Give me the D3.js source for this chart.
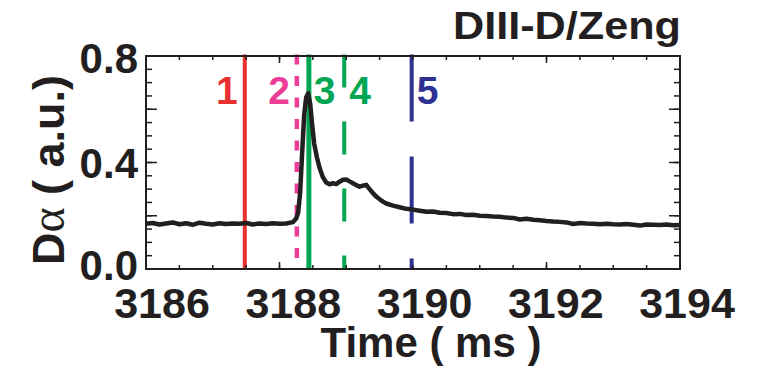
<!DOCTYPE html>
<html>
<head>
<meta charset="utf-8">
<script src="https://cdn.jsdelivr.net/npm/d3@7/dist/d3.min.js"></script>
<style>
	body { margin: 0; background: #fff; }
	text { font-family: "Liberation Sans", Arial, sans-serif; font-weight: bold; fill: #231f20; }
</style>
</head>
<body>
<div id="chart"></div>
<script>

// D-alpha trace (a.u.) vs time (ms)
const timeMs = [
	3186.0, 3186.1, 3186.2, 3186.3, 3186.4, 3186.5, 3186.6, 3186.7, 3186.8, 3186.9,
	3187.0, 3187.1, 3187.2, 3187.3, 3187.4, 3187.5, 3187.6, 3187.7, 3187.8, 3187.9,
	3188.0, 3188.1, 3188.2, 3188.25, 3188.28, 3188.31, 3188.34, 3188.37, 3188.40, 3188.43,
	3188.46, 3188.49, 3188.52, 3188.56, 3188.60, 3188.65, 3188.70, 3188.75, 3188.80, 3188.85,
	3188.90, 3188.95, 3189.00, 3189.05, 3189.10, 3189.15, 3189.20, 3189.25, 3189.30, 3189.35,
	3189.40, 3189.45, 3189.50, 3189.55, 3189.60, 3189.70, 3189.80, 3189.90, 3190.0, 3190.1,
	3190.2, 3190.3, 3190.4, 3190.5, 3190.6, 3190.7, 3190.8, 3190.9, 3191.0, 3191.1,
	3191.2, 3191.3, 3191.4, 3191.5, 3191.6, 3191.7, 3191.8, 3191.9, 3192.0, 3192.1,
	3192.2, 3192.3, 3192.4, 3192.5, 3192.6, 3192.7, 3192.8, 3192.9, 3193.0, 3193.1,
	3193.2, 3193.3, 3193.4, 3193.5, 3193.6, 3193.7, 3193.8, 3193.9, 3194.0
];
const dAlpha = [
	0.170, 0.173, 0.167, 0.171, 0.175, 0.168, 0.172, 0.166, 0.174, 0.170,
	0.167, 0.172, 0.169, 0.171, 0.170, 0.173, 0.167, 0.171, 0.169, 0.172,
	0.170, 0.171, 0.176, 0.190, 0.212, 0.290, 0.440, 0.580, 0.645, 0.660,
	0.620, 0.540, 0.470, 0.420, 0.380, 0.345, 0.325, 0.318, 0.322, 0.319,
	0.328, 0.335, 0.336, 0.329, 0.322, 0.315, 0.309, 0.313, 0.316, 0.300,
	0.285, 0.272, 0.262, 0.253, 0.246, 0.238, 0.232, 0.226, 0.223, 0.219,
	0.215, 0.216, 0.211, 0.210, 0.206, 0.207, 0.203, 0.204, 0.200, 0.199,
	0.197, 0.196, 0.193, 0.192, 0.186, 0.189, 0.185, 0.183, 0.180, 0.178,
	0.177, 0.175, 0.169, 0.173, 0.171, 0.170, 0.168, 0.170, 0.168, 0.167,
	0.169, 0.166, 0.163, 0.167, 0.166, 0.165, 0.167, 0.164, 0.165
];

// marked instants (ms) and their names
const eventTimes = [3187.48, 3188.26, 3188.44, 3188.97, 3189.98];
const eventLabels = ["1", "2", "3", "4", "5"];

// axis labels
const xTickValues = [3186, 3188, 3190, 3192, 3194];
const yTickValues = [0.0, 0.4, 0.8];
const title = "DIII-D/Zeng";

// styling per event, kept apart from the data
const eventStyle = {
	"1": {color: "#e8302f", dash: null, width: 4, side: "left"},
	"2": {color: "#ec3d97", dash: "10,11.5", width: 4.5, side: "left"},
	"3": {color: "#00a651", dash: null, width: 5, side: "right"},
	"4": {color: "#00a651", dash: "33,34", width: 4, side: "right"},
	"5": {color: "#2e3192", dash: "67,35", width: 4, side: "right"}
};

const W = 757, H = 366;
const plot = {left: 146, right: 680, top: 56, bottom: 269};

const svg = d3.select("#chart").append("svg")
	.attr("width", W)
	.attr("height", H);

svg.append("rect").attr("width", W).attr("height", H).attr("fill", "#fff");

const x = d3.scaleLinear().domain([3186, 3194]).range([plot.left, plot.right]);
const y = d3.scaleLinear().domain([0, 0.8]).range([plot.bottom, plot.top]);

// event lines
let events = eventTimes.map((t, i) => ({t: t, label: eventLabels[i]}));

svg.selectAll("line.event")
	.data(events)
	.enter()
	.append("line")
	.attr("class", "event")
	.attr("x1", d => x(d.t))
	.attr("x2", d => x(d.t))
	.attr("y1", y(0.8) - 1.5)
	.attr("y2", y(0))
	.attr("stroke", d => eventStyle[d.label].color)
	.attr("stroke-width", d => eventStyle[d.label].width)
	.attr("stroke-dasharray", d => eventStyle[d.label].dash);

// trace
let trace = timeMs.map((t, i) => [t, dAlpha[i]]);

svg.append("path")
	.datum(trace)
	.attr("fill", "none")
	.attr("stroke", "#231f20")
	.attr("stroke-width", 4.5)
	.attr("stroke-linejoin", "round")
	.attr("d", d3.line().x(d => x(d[0])).y(d => y(d[1])));

// event numbers
svg.selectAll("text.event-label")
	.data(events)
	.enter()
	.append("text")
	.attr("class", "event-label")
	.attr("x", d => eventStyle[d.label].side === "left" ? x(d.t) - 7 : x(d.t) + 5)
	.attr("y", 104)
	.attr("text-anchor", d => eventStyle[d.label].side === "left" ? "end" : "start")
	.style("font-size", "39px")
	.style("fill", d => eventStyle[d.label].color)
	.text(d => d.label);

// ticks, pointing inward on all four sides
function ticks(vals, len, side) {
	let g = svg.append("g");
	vals.forEach(v => {
		let l = g.append("line").attr("stroke", "#231f20").attr("stroke-width", 1.5);
		if (side === "bottom") l.attr("x1", x(v)).attr("x2", x(v)).attr("y1", plot.bottom).attr("y2", plot.bottom - len);
		if (side === "top") l.attr("x1", x(v)).attr("x2", x(v)).attr("y1", plot.top).attr("y2", plot.top + len);
		if (side === "left") l.attr("y1", y(v)).attr("y2", y(v)).attr("x1", plot.left).attr("x2", plot.left + len);
		if (side === "right") l.attr("y1", y(v)).attr("y2", y(v)).attr("x1", plot.right).attr("x2", plot.right - len);
	});
}

let xMinor = d3.range(3186.5, 3194, 0.5);
let xMajor = [3188, 3192];
let yMinor = d3.range(1, 16).map(i => i * 0.05);
let yMajor = [0.2, 0.4, 0.6];

ticks(xMinor, 4, "bottom");
ticks(xMinor, 4, "top");
ticks(xMajor, 7, "bottom");
ticks(xMajor, 7, "top");
ticks(yMinor, 6, "left");
ticks(yMinor, 6, "right");
ticks(yMajor, 11, "left");
ticks(yMajor, 11, "right");

// frame
svg.append("rect")
	.attr("x", plot.left)
	.attr("y", plot.top)
	.attr("width", plot.right - plot.left)
	.attr("height", plot.bottom - plot.top)
	.attr("fill", "none")
	.attr("stroke", "#231f20")
	.attr("stroke-width", 2);

// tick labels (the original sits them a little right of the ticks)
const xLabelPos = d3.scaleLinear().domain([3186, 3194]).range([x(3186) + 16, x(3194) + 7]);

svg.selectAll("text.xtick")
	.data(xTickValues)
	.enter()
	.append("text")
	.attr("class", "xtick")
	.attr("x", d => xLabelPos(d))
	.attr("y", 318)
	.attr("text-anchor", "middle")
	.style("font-size", "43px")
	.text(d => d);

svg.selectAll("text.ytick")
	.data(yTickValues)
	.enter()
	.append("text")
	.attr("class", "ytick")
	.attr("x", plot.left - 8)
	.attr("y", d => Math.max(y(0.8) + 2, Math.min(y(d), y(0) - 4)))
	.attr("dy", "0.36em")
	.attr("text-anchor", "end")
	.style("font-size", "42px")
	.text(d => d3.format(".1f")(d));

// axis titles
svg.append("text")
	.attr("x", 431)
	.attr("y", 357)
	.attr("text-anchor", "middle")
	.style("font-size", "42px")
	.text("Time ( ms )");

let yt = svg.append("text")
	.attr("transform", "translate(64, 170) rotate(-90)")
	.attr("text-anchor", "middle")
	.style("font-size", "45px");
yt.append("tspan").text("D");
yt.append("tspan")
	.style("font-family", "'Liberation Serif', serif")
	.style("font-weight", "normal")
	.style("font-size", "48px")
	.text("\u03b1");
yt.append("tspan").text(" ( a.u.)");

// title
svg.append("text")
	.attr("x", 681)
	.attr("y", 39)
	.attr("text-anchor", "end")
	.style("font-size", "39px")
	.attr("textLength", 228)
	.attr("lengthAdjust", "spacingAndGlyphs")
	.text(title);

</script>
</body>
</html>
